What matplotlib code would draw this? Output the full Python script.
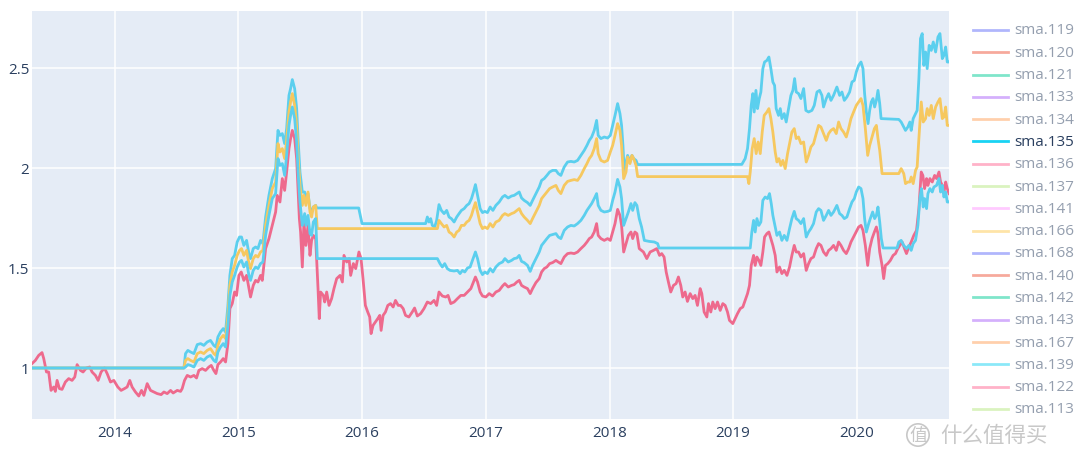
import matplotlib.pyplot as plt
import matplotlib.dates as mdates
from matplotlib.lines import Line2D
import pandas as pd

plt.rcParams['font.family'] = ['Open Sans', 'DejaVu Sans']

# values: (decimal year, value)
sma135 = [
    (2013.330, 1.000), (2014.559, 1.000), (2014.572, 1.072), (2014.591, 1.088), (2014.613, 1.080),
    (2014.640, 1.072), (2014.667, 1.117), (2014.694, 1.122), (2014.720, 1.113), (2014.747, 1.130),
    (2014.774, 1.138), (2014.801, 1.113), (2014.818, 1.105), (2014.834, 1.155), (2014.855, 1.180),
    (2014.877, 1.197), (2014.896, 1.180), (2014.915, 1.313), (2014.931, 1.463), (2014.950, 1.547),
    (2014.969, 1.563), (2014.990, 1.630), (2015.009, 1.655), (2015.025, 1.655), (2015.044, 1.613),
    (2015.066, 1.638), (2015.085, 1.572), (2015.098, 1.547), (2015.120, 1.597), (2015.139, 1.605),
    (2015.158, 1.597), (2015.179, 1.638), (2015.198, 1.622), (2015.220, 1.755), (2015.247, 1.863),
    (2015.274, 1.947), (2015.301, 1.997), (2015.320, 2.188), (2015.336, 2.163), (2015.355, 2.172),
    (2015.374, 2.122), (2015.390, 2.197), (2015.409, 2.363), (2015.422, 2.397), (2015.436, 2.442),
    (2015.455, 2.397), (2015.471, 2.297), (2015.484, 2.130), (2015.498, 1.980), (2015.517, 1.880),
    (2015.536, 1.880), (2015.546, 1.847), (2015.563, 1.872), (2015.579, 1.797), (2015.592, 1.780),
    (2015.606, 1.805), (2015.625, 1.813), (2015.633, 1.800), (2015.973, 1.800), (2016.000, 1.722),
    (2016.513, 1.722), (2016.527, 1.755), (2016.540, 1.730), (2016.554, 1.747), (2016.567, 1.713),
    (2016.586, 1.705), (2016.602, 1.738), (2016.621, 1.817), (2016.640, 1.788), (2016.662, 1.772),
    (2016.683, 1.788), (2016.702, 1.755), (2016.721, 1.747), (2016.743, 1.730), (2016.764, 1.755),
    (2016.783, 1.772), (2016.802, 1.788), (2016.824, 1.797), (2016.845, 1.813), (2016.864, 1.822),
    (2016.883, 1.847), (2016.899, 1.880), (2016.915, 1.917), (2016.932, 1.863), (2016.953, 1.797),
    (2016.972, 1.777), (2016.991, 1.783), (2017.012, 1.777), (2017.034, 1.805), (2017.056, 1.788),
    (2017.080, 1.813), (2017.107, 1.830), (2017.134, 1.855), (2017.153, 1.863), (2017.180, 1.850),
    (2017.207, 1.860), (2017.228, 1.863), (2017.250, 1.872), (2017.269, 1.880), (2017.288, 1.850),
    (2017.309, 1.838), (2017.336, 1.827), (2017.358, 1.813), (2017.377, 1.838), (2017.404, 1.872),
    (2017.431, 1.905), (2017.450, 1.938), (2017.471, 1.947), (2017.493, 1.963), (2017.515, 1.980),
    (2017.539, 1.988), (2017.566, 1.988), (2017.585, 1.972), (2017.606, 1.963), (2017.633, 2.005),
    (2017.660, 2.030), (2017.687, 2.033), (2017.714, 2.030), (2017.741, 2.038), (2017.768, 2.063),
    (2017.795, 2.088), (2017.817, 2.113), (2017.836, 2.138), (2017.855, 2.155), (2017.876, 2.188),
    (2017.895, 2.238), (2017.908, 2.163), (2017.930, 2.147), (2017.957, 2.155), (2017.984, 2.150),
    (2018.006, 2.163), (2018.025, 2.213), (2018.044, 2.263), (2018.065, 2.322), (2018.084, 2.272),
    (2018.097, 2.213), (2018.108, 2.113), (2018.119, 1.980), (2018.133, 2.030), (2018.146, 2.063),
    (2018.165, 2.030), (2018.181, 2.063), (2018.195, 2.047), (2018.214, 2.038), (2018.227, 2.017),
    (2019.070, 2.018), (2019.097, 2.047), (2019.116, 2.097), (2019.132, 2.197), (2019.146, 2.313),
    (2019.159, 2.372), (2019.170, 2.280), (2019.184, 2.388), (2019.197, 2.297), (2019.211, 2.347),
    (2019.224, 2.380), (2019.240, 2.497), (2019.254, 2.530), (2019.273, 2.538), (2019.289, 2.555),
    (2019.305, 2.497), (2019.321, 2.430), (2019.335, 2.413), (2019.348, 2.297), (2019.367, 2.263),
    (2019.381, 2.297), (2019.394, 2.247), (2019.413, 2.272), (2019.429, 2.230), (2019.448, 2.297),
    (2019.467, 2.363), (2019.483, 2.388), (2019.497, 2.447), (2019.510, 2.380), (2019.529, 2.372),
    (2019.548, 2.347), (2019.570, 2.397), (2019.588, 2.288), (2019.610, 2.280), (2019.637, 2.288),
    (2019.656, 2.313), (2019.678, 2.380), (2019.699, 2.388), (2019.718, 2.363), (2019.731, 2.305),
    (2019.753, 2.347), (2019.772, 2.372), (2019.791, 2.338), (2019.812, 2.363), (2019.839, 2.405),
    (2019.861, 2.363), (2019.880, 2.380), (2019.899, 2.338), (2019.920, 2.355), (2019.942, 2.380),
    (2019.961, 2.430), (2019.980, 2.438), (2019.996, 2.480), (2020.015, 2.513), (2020.034, 2.530),
    (2020.050, 2.497), (2020.063, 2.372), (2020.077, 2.280), (2020.091, 2.222), (2020.104, 2.288),
    (2020.117, 2.330), (2020.131, 2.347), (2020.144, 2.305), (2020.158, 2.338), (2020.171, 2.388),
    (2020.185, 2.322), (2020.196, 2.247), (2020.339, 2.243), (2020.358, 2.230), (2020.379, 2.205),
    (2020.393, 2.188), (2020.412, 2.205), (2020.428, 2.230), (2020.439, 2.188), (2020.455, 2.247),
    (2020.474, 2.272), (2020.487, 2.288), (2020.501, 2.447), (2020.514, 2.647), (2020.528, 2.672),
    (2020.541, 2.513), (2020.555, 2.580), (2020.568, 2.497), (2020.584, 2.613), (2020.601, 2.588),
    (2020.617, 2.630), (2020.636, 2.580), (2020.655, 2.655), (2020.671, 2.672), (2020.690, 2.547),
    (2020.703, 2.563), (2020.717, 2.605), (2020.730, 2.530), (2020.744, 2.530),
]

sma136 = [
    (2013.330, 1.022), (2013.357, 1.038), (2013.384, 1.063), (2013.411, 1.077), (2013.425, 1.047),
    (2013.447, 0.980), (2013.465, 0.980), (2013.484, 0.888), (2013.506, 0.905), (2013.519, 0.883),
    (2013.533, 0.938), (2013.552, 0.897), (2013.573, 0.893), (2013.600, 0.930), (2013.627, 0.947),
    (2013.654, 0.938), (2013.676, 0.955), (2013.695, 1.017), (2013.722, 0.988), (2013.743, 0.980),
    (2013.770, 1.000), (2013.797, 1.005), (2013.816, 0.980), (2013.843, 0.963), (2013.865, 0.938),
    (2013.889, 0.980), (2013.916, 1.000), (2013.938, 0.972), (2013.965, 0.930), (2013.992, 0.938),
    (2014.024, 0.905), (2014.051, 0.888), (2014.078, 0.897), (2014.100, 0.905), (2014.121, 0.938),
    (2014.140, 0.905), (2014.167, 0.880), (2014.194, 0.860), (2014.216, 0.888), (2014.235, 0.863),
    (2014.262, 0.922), (2014.289, 0.888), (2014.316, 0.880), (2014.343, 0.872), (2014.375, 0.867),
    (2014.397, 0.880), (2014.424, 0.872), (2014.451, 0.888), (2014.472, 0.875), (2014.505, 0.888),
    (2014.532, 0.883), (2014.545, 0.897), (2014.564, 0.938), (2014.586, 0.963), (2014.613, 0.955),
    (2014.640, 0.963), (2014.661, 0.950), (2014.680, 0.988), (2014.707, 0.997), (2014.734, 0.988),
    (2014.761, 1.005), (2014.780, 1.013), (2014.801, 0.988), (2014.818, 0.972), (2014.834, 1.017),
    (2014.855, 1.030), (2014.877, 1.047), (2014.896, 1.030), (2014.915, 1.122), (2014.931, 1.297),
    (2014.950, 1.322), (2014.969, 1.380), (2014.985, 1.363), (2015.004, 1.463), (2015.023, 1.480),
    (2015.044, 1.438), (2015.066, 1.463), (2015.085, 1.397), (2015.098, 1.355), (2015.120, 1.413),
    (2015.139, 1.438), (2015.158, 1.430), (2015.179, 1.463), (2015.193, 1.438), (2015.220, 1.597),
    (2015.247, 1.647), (2015.274, 1.713), (2015.301, 1.780), (2015.314, 1.863), (2015.336, 1.830),
    (2015.355, 1.947), (2015.374, 1.888), (2015.390, 1.980), (2015.409, 2.097), (2015.422, 2.147),
    (2015.436, 2.188), (2015.455, 2.147), (2015.471, 2.047), (2015.482, 1.897), (2015.493, 1.747),
    (2015.503, 1.680), (2015.517, 1.505), (2015.530, 1.730), (2015.546, 1.613), (2015.563, 1.713),
    (2015.579, 1.563), (2015.592, 1.638), (2015.606, 1.663), (2015.625, 1.647), (2015.644, 1.397),
    (2015.654, 1.247), (2015.665, 1.380), (2015.687, 1.363), (2015.698, 1.330), (2015.714, 1.380),
    (2015.733, 1.313), (2015.754, 1.347), (2015.773, 1.397), (2015.795, 1.447), (2015.822, 1.463),
    (2015.841, 1.430), (2015.854, 1.563), (2015.876, 1.530), (2015.895, 1.547), (2015.908, 1.463),
    (2015.930, 1.522), (2015.949, 1.497), (2015.975, 1.580), (2015.992, 1.547), (2016.008, 1.447),
    (2016.027, 1.313), (2016.046, 1.280), (2016.062, 1.255), (2016.073, 1.172), (2016.089, 1.213),
    (2016.108, 1.230), (2016.127, 1.247), (2016.143, 1.263), (2016.154, 1.188), (2016.170, 1.263),
    (2016.189, 1.280), (2016.208, 1.313), (2016.230, 1.322), (2016.251, 1.305), (2016.270, 1.338),
    (2016.292, 1.313), (2016.311, 1.313), (2016.332, 1.297), (2016.351, 1.263), (2016.378, 1.255),
    (2016.405, 1.280), (2016.424, 1.300), (2016.446, 1.260), (2016.473, 1.272), (2016.500, 1.297),
    (2016.527, 1.330), (2016.554, 1.322), (2016.581, 1.338), (2016.602, 1.313), (2016.621, 1.380),
    (2016.648, 1.360), (2016.675, 1.355), (2016.694, 1.363), (2016.716, 1.322), (2016.743, 1.330),
    (2016.770, 1.347), (2016.797, 1.363), (2016.824, 1.363), (2016.851, 1.380), (2016.878, 1.397),
    (2016.899, 1.430), (2016.915, 1.455), (2016.932, 1.430), (2016.953, 1.380), (2016.972, 1.360),
    (2016.999, 1.355), (2017.026, 1.372), (2017.053, 1.360), (2017.080, 1.380), (2017.107, 1.388),
    (2017.134, 1.410), (2017.153, 1.422), (2017.180, 1.405), (2017.207, 1.413), (2017.228, 1.417),
    (2017.250, 1.430), (2017.269, 1.438), (2017.288, 1.413), (2017.309, 1.405), (2017.336, 1.397),
    (2017.358, 1.372), (2017.377, 1.397), (2017.404, 1.427), (2017.431, 1.447), (2017.450, 1.480),
    (2017.471, 1.497), (2017.493, 1.505), (2017.515, 1.522), (2017.539, 1.527), (2017.566, 1.538),
    (2017.585, 1.530), (2017.606, 1.522), (2017.633, 1.555), (2017.660, 1.572), (2017.687, 1.575),
    (2017.714, 1.572), (2017.741, 1.580), (2017.768, 1.597), (2017.795, 1.613), (2017.817, 1.630),
    (2017.836, 1.647), (2017.855, 1.655), (2017.876, 1.680), (2017.895, 1.722), (2017.908, 1.663),
    (2017.930, 1.647), (2017.957, 1.638), (2017.984, 1.647), (2018.006, 1.638), (2018.025, 1.680),
    (2018.044, 1.722), (2018.065, 1.793), (2018.084, 1.763), (2018.097, 1.713), (2018.114, 1.580),
    (2018.133, 1.622), (2018.152, 1.663), (2018.173, 1.680), (2018.187, 1.647), (2018.205, 1.680),
    (2018.221, 1.672), (2018.240, 1.597), (2018.274, 1.580), (2018.301, 1.547), (2018.328, 1.580),
    (2018.355, 1.588), (2018.382, 1.597), (2018.404, 1.563), (2018.422, 1.572), (2018.441, 1.555),
    (2018.458, 1.480), (2018.476, 1.430), (2018.495, 1.380), (2018.517, 1.413), (2018.538, 1.422),
    (2018.557, 1.455), (2018.576, 1.413), (2018.592, 1.355), (2018.611, 1.380), (2018.630, 1.333),
    (2018.652, 1.372), (2018.673, 1.347), (2018.692, 1.363), (2018.711, 1.313), (2018.733, 1.397),
    (2018.746, 1.372), (2018.765, 1.280), (2018.787, 1.255), (2018.800, 1.322), (2018.819, 1.280),
    (2018.835, 1.330), (2018.854, 1.297), (2018.873, 1.330), (2018.895, 1.288), (2018.916, 1.322),
    (2018.935, 1.313), (2018.954, 1.280), (2018.970, 1.238), (2018.997, 1.222), (2019.016, 1.247),
    (2019.035, 1.272), (2019.057, 1.297), (2019.078, 1.305), (2019.097, 1.338), (2019.116, 1.372),
    (2019.132, 1.413), (2019.146, 1.513), (2019.165, 1.563), (2019.178, 1.513), (2019.192, 1.555),
    (2019.208, 1.538), (2019.224, 1.513), (2019.240, 1.580), (2019.254, 1.655), (2019.273, 1.672),
    (2019.289, 1.680), (2019.305, 1.647), (2019.321, 1.613), (2019.340, 1.563), (2019.354, 1.480),
    (2019.375, 1.505), (2019.394, 1.472), (2019.413, 1.488), (2019.435, 1.463), (2019.456, 1.505),
    (2019.475, 1.563), (2019.494, 1.613), (2019.510, 1.580), (2019.529, 1.580), (2019.548, 1.555),
    (2019.570, 1.572), (2019.591, 1.488), (2019.610, 1.522), (2019.629, 1.547), (2019.650, 1.555),
    (2019.672, 1.597), (2019.691, 1.622), (2019.710, 1.613), (2019.731, 1.580), (2019.753, 1.563),
    (2019.772, 1.588), (2019.791, 1.597), (2019.812, 1.613), (2019.834, 1.588), (2019.853, 1.630),
    (2019.872, 1.613), (2019.893, 1.588), (2019.915, 1.572), (2019.934, 1.597), (2019.953, 1.630),
    (2019.974, 1.655), (2019.996, 1.680), (2020.015, 1.705), (2020.034, 1.713), (2020.050, 1.688),
    (2020.069, 1.613), (2020.088, 1.513), (2020.104, 1.597), (2020.123, 1.647), (2020.142, 1.680),
    (2020.158, 1.705), (2020.171, 1.672), (2020.185, 1.580), (2020.204, 1.513), (2020.217, 1.447),
    (2020.231, 1.513), (2020.250, 1.522), (2020.271, 1.538), (2020.293, 1.563), (2020.312, 1.572),
    (2020.331, 1.597), (2020.347, 1.613), (2020.366, 1.630), (2020.385, 1.597), (2020.401, 1.572),
    (2020.420, 1.605), (2020.439, 1.630), (2020.460, 1.663), (2020.482, 1.688), (2020.501, 1.797),
    (2020.520, 1.980), (2020.533, 1.963), (2020.547, 1.897), (2020.563, 1.947), (2020.574, 1.913),
    (2020.590, 1.947), (2020.609, 1.930), (2020.628, 1.963), (2020.644, 1.947), (2020.663, 1.980),
    (2020.676, 1.930), (2020.690, 1.913), (2020.704, 1.880), (2020.717, 1.930), (2020.730, 1.897),
    (2020.744, 1.872),
]

sma166 = [
    (2013.330, 1.000), (2014.559, 1.000), (2014.572, 1.038), (2014.591, 1.047), (2014.613, 1.038),
    (2014.640, 1.030), (2014.667, 1.072), (2014.694, 1.080), (2014.720, 1.072), (2014.747, 1.088),
    (2014.774, 1.097), (2014.801, 1.072), (2014.818, 1.063), (2014.834, 1.113), (2014.855, 1.147),
    (2014.877, 1.163), (2014.896, 1.147), (2014.915, 1.263), (2014.931, 1.413), (2014.950, 1.480),
    (2014.969, 1.513), (2014.990, 1.563), (2015.009, 1.588), (2015.025, 1.597), (2015.044, 1.563),
    (2015.066, 1.588), (2015.085, 1.522), (2015.098, 1.497), (2015.120, 1.547), (2015.139, 1.563),
    (2015.158, 1.555), (2015.179, 1.580), (2015.198, 1.588), (2015.220, 1.713), (2015.247, 1.813),
    (2015.274, 1.897), (2015.301, 1.930), (2015.320, 2.122), (2015.336, 2.080), (2015.355, 2.097),
    (2015.374, 2.047), (2015.390, 2.138), (2015.409, 2.280), (2015.422, 2.330), (2015.436, 2.372),
    (2015.455, 2.313), (2015.471, 2.213), (2015.484, 2.047), (2015.498, 1.913), (2015.517, 1.813),
    (2015.530, 1.863), (2015.546, 1.813), (2015.563, 1.880), (2015.579, 1.780), (2015.592, 1.755),
    (2015.606, 1.805), (2015.625, 1.813), (2015.638, 1.697), (2016.608, 1.697), (2016.621, 1.738),
    (2016.640, 1.722), (2016.662, 1.705), (2016.683, 1.713), (2016.702, 1.680), (2016.721, 1.672),
    (2016.743, 1.655), (2016.764, 1.680), (2016.783, 1.688), (2016.802, 1.713), (2016.824, 1.713),
    (2016.845, 1.730), (2016.864, 1.738), (2016.883, 1.763), (2016.899, 1.797), (2016.915, 1.827),
    (2016.932, 1.780), (2016.953, 1.722), (2016.972, 1.697), (2016.991, 1.705), (2017.012, 1.697),
    (2017.034, 1.722), (2017.056, 1.705), (2017.080, 1.730), (2017.107, 1.738), (2017.134, 1.763),
    (2017.153, 1.772), (2017.180, 1.763), (2017.207, 1.772), (2017.228, 1.777), (2017.250, 1.788),
    (2017.269, 1.797), (2017.288, 1.772), (2017.309, 1.755), (2017.336, 1.738), (2017.358, 1.722),
    (2017.377, 1.747), (2017.404, 1.780), (2017.431, 1.813), (2017.450, 1.847), (2017.471, 1.863),
    (2017.493, 1.880), (2017.515, 1.897), (2017.539, 1.905), (2017.566, 1.913), (2017.585, 1.888),
    (2017.606, 1.872), (2017.633, 1.913), (2017.660, 1.933), (2017.687, 1.938), (2017.714, 1.942),
    (2017.741, 1.938), (2017.768, 1.963), (2017.795, 1.997), (2017.817, 2.022), (2017.836, 2.047),
    (2017.855, 2.063), (2017.876, 2.097), (2017.895, 2.147), (2017.908, 2.072), (2017.930, 2.038),
    (2017.957, 2.030), (2017.984, 2.038), (2018.006, 2.080), (2018.025, 2.113), (2018.044, 2.163),
    (2018.065, 2.222), (2018.084, 2.188), (2018.097, 2.113), (2018.114, 1.947), (2018.133, 1.980),
    (2018.146, 2.055), (2018.165, 2.022), (2018.181, 2.063), (2018.195, 2.047), (2018.214, 2.013),
    (2018.227, 1.957), (2019.116, 1.957), (2019.127, 1.922), (2019.138, 1.980), (2019.154, 2.097),
    (2019.170, 2.147), (2019.186, 2.072), (2019.202, 2.130), (2019.219, 2.072), (2019.235, 2.180),
    (2019.251, 2.263), (2019.273, 2.280), (2019.289, 2.297), (2019.305, 2.247), (2019.321, 2.180),
    (2019.340, 2.080), (2019.354, 2.030), (2019.370, 2.047), (2019.386, 2.013), (2019.402, 2.038),
    (2019.421, 1.997), (2019.440, 2.072), (2019.456, 2.122), (2019.475, 2.180), (2019.494, 2.197),
    (2019.510, 2.147), (2019.529, 2.155), (2019.548, 2.122), (2019.570, 2.130), (2019.591, 2.030),
    (2019.610, 2.063), (2019.629, 2.105), (2019.650, 2.122), (2019.672, 2.172), (2019.691, 2.213),
    (2019.710, 2.205), (2019.731, 2.172), (2019.753, 2.138), (2019.772, 2.172), (2019.791, 2.188),
    (2019.812, 2.197), (2019.834, 2.172), (2019.853, 2.230), (2019.872, 2.197), (2019.893, 2.180),
    (2019.915, 2.155), (2019.934, 2.197), (2019.953, 2.247), (2019.974, 2.280), (2019.996, 2.313),
    (2020.015, 2.330), (2020.034, 2.347), (2020.050, 2.313), (2020.069, 2.197), (2020.088, 2.063),
    (2020.104, 2.113), (2020.123, 2.155), (2020.142, 2.197), (2020.158, 2.213), (2020.171, 2.147),
    (2020.185, 2.088), (2020.204, 1.972), (2020.339, 1.972), (2020.358, 1.997), (2020.379, 1.972),
    (2020.393, 1.922), (2020.412, 1.930), (2020.428, 1.930), (2020.439, 1.955), (2020.455, 1.922),
    (2020.474, 1.988), (2020.487, 2.005), (2020.501, 2.147), (2020.520, 2.330), (2020.536, 2.230),
    (2020.555, 2.247), (2020.568, 2.297), (2020.584, 2.263), (2020.601, 2.313), (2020.617, 2.247),
    (2020.636, 2.305), (2020.655, 2.330), (2020.671, 2.347), (2020.690, 2.247), (2020.703, 2.255),
    (2020.717, 2.305), (2020.730, 2.213), (2020.744, 2.213),
]

sma139 = [
    (2013.330, 1.000), (2014.559, 1.000), (2014.572, 1.005), (2014.591, 1.017), (2014.613, 1.013),
    (2014.640, 1.005), (2014.667, 1.038), (2014.694, 1.047), (2014.720, 1.038), (2014.747, 1.055),
    (2014.774, 1.063), (2014.801, 1.038), (2014.818, 1.030), (2014.834, 1.080), (2014.855, 1.105),
    (2014.877, 1.122), (2014.896, 1.105), (2014.915, 1.213), (2014.931, 1.363), (2014.950, 1.430),
    (2014.969, 1.463), (2014.990, 1.505), (2015.009, 1.530), (2015.025, 1.538), (2015.044, 1.505),
    (2015.066, 1.530), (2015.085, 1.463), (2015.098, 1.438), (2015.120, 1.488), (2015.139, 1.505),
    (2015.158, 1.497), (2015.179, 1.522), (2015.198, 1.530), (2015.220, 1.663), (2015.247, 1.763),
    (2015.274, 1.847), (2015.301, 1.872), (2015.320, 2.047), (2015.336, 2.013), (2015.355, 2.022),
    (2015.374, 1.963), (2015.390, 2.063), (2015.409, 2.213), (2015.422, 2.263), (2015.436, 2.305),
    (2015.455, 2.247), (2015.471, 2.130), (2015.484, 1.963), (2015.498, 1.830), (2015.517, 1.713),
    (2015.536, 1.772), (2015.546, 1.713), (2015.563, 1.763), (2015.579, 1.672), (2015.592, 1.663),
    (2015.606, 1.730), (2015.625, 1.747), (2015.638, 1.547), (2016.608, 1.547), (2016.629, 1.522),
    (2016.648, 1.505), (2016.667, 1.522), (2016.688, 1.497), (2016.710, 1.488), (2016.743, 1.485),
    (2016.770, 1.488), (2016.791, 1.472), (2016.810, 1.488), (2016.829, 1.480), (2016.851, 1.500),
    (2016.872, 1.505), (2016.891, 1.538), (2016.915, 1.580), (2016.932, 1.547), (2016.953, 1.488),
    (2016.972, 1.467), (2016.991, 1.480), (2017.012, 1.472), (2017.034, 1.497), (2017.056, 1.480),
    (2017.080, 1.505), (2017.107, 1.522), (2017.134, 1.530), (2017.153, 1.547), (2017.180, 1.530),
    (2017.207, 1.538), (2017.228, 1.547), (2017.250, 1.550), (2017.269, 1.563), (2017.288, 1.533),
    (2017.309, 1.527), (2017.336, 1.513), (2017.358, 1.483), (2017.377, 1.513), (2017.404, 1.547),
    (2017.431, 1.580), (2017.450, 1.613), (2017.471, 1.630), (2017.493, 1.647), (2017.515, 1.663),
    (2017.539, 1.667), (2017.566, 1.672), (2017.585, 1.655), (2017.606, 1.647), (2017.633, 1.688),
    (2017.660, 1.705), (2017.687, 1.713), (2017.714, 1.710), (2017.741, 1.722), (2017.768, 1.738),
    (2017.795, 1.763), (2017.817, 1.788), (2017.836, 1.805), (2017.855, 1.822), (2017.876, 1.847),
    (2017.895, 1.872), (2017.908, 1.813), (2017.930, 1.788), (2017.957, 1.780), (2017.984, 1.783),
    (2018.006, 1.788), (2018.025, 1.838), (2018.044, 1.880), (2018.065, 1.943), (2018.084, 1.905),
    (2018.097, 1.847), (2018.114, 1.713), (2018.133, 1.747), (2018.152, 1.780), (2018.173, 1.822),
    (2018.187, 1.788), (2018.205, 1.827), (2018.221, 1.813), (2018.240, 1.747), (2018.259, 1.705),
    (2018.281, 1.638), (2018.321, 1.633), (2018.362, 1.630), (2018.389, 1.622), (2018.400, 1.600),
    (2019.138, 1.600), (2019.151, 1.680), (2019.165, 1.738), (2019.178, 1.680), (2019.192, 1.747),
    (2019.208, 1.713), (2019.224, 1.730), (2019.240, 1.838), (2019.259, 1.855), (2019.278, 1.847),
    (2019.294, 1.872), (2019.308, 1.822), (2019.321, 1.763), (2019.340, 1.705), (2019.354, 1.663),
    (2019.375, 1.680), (2019.394, 1.638), (2019.413, 1.663), (2019.435, 1.638), (2019.456, 1.697),
    (2019.475, 1.747), (2019.494, 1.783), (2019.510, 1.747), (2019.529, 1.738), (2019.548, 1.722),
    (2019.570, 1.747), (2019.591, 1.655), (2019.610, 1.680), (2019.629, 1.697), (2019.650, 1.722),
    (2019.672, 1.780), (2019.691, 1.797), (2019.710, 1.788), (2019.731, 1.738), (2019.753, 1.763),
    (2019.772, 1.788), (2019.791, 1.763), (2019.812, 1.780), (2019.839, 1.813), (2019.861, 1.772),
    (2019.880, 1.763), (2019.899, 1.747), (2019.920, 1.755), (2019.942, 1.797), (2019.961, 1.830),
    (2019.980, 1.847), (2019.996, 1.880), (2020.015, 1.905), (2020.034, 1.897), (2020.050, 1.847),
    (2020.063, 1.747), (2020.077, 1.680), (2020.096, 1.722), (2020.109, 1.747), (2020.128, 1.780),
    (2020.144, 1.747), (2020.158, 1.763), (2020.171, 1.805), (2020.185, 1.730), (2020.198, 1.647),
    (2020.212, 1.600), (2020.325, 1.600), (2020.339, 1.630), (2020.358, 1.638), (2020.379, 1.613),
    (2020.401, 1.597), (2020.420, 1.613), (2020.439, 1.588), (2020.455, 1.622), (2020.474, 1.638),
    (2020.493, 1.713), (2020.509, 1.847), (2020.522, 1.897), (2020.536, 1.805), (2020.547, 1.847),
    (2020.563, 1.797), (2020.574, 1.872), (2020.590, 1.897), (2020.609, 1.880), (2020.622, 1.905),
    (2020.644, 1.913), (2020.663, 1.947), (2020.676, 1.880), (2020.690, 1.913), (2020.703, 1.855),
    (2020.717, 1.880), (2020.730, 1.830), (2020.744, 1.830),
]

# legend order and plotly default colours
legend_names = ['sma.119', 'sma.120', 'sma.121', 'sma.133', 'sma.134', 'sma.135', 'sma.136',
                'sma.137', 'sma.141', 'sma.166', 'sma.168', 'sma.140', 'sma.142', 'sma.143',
                'sma.167', 'sma.139', 'sma.122', 'sma.113']
palette = ['#636EFA', '#EF553B', '#00CC96', '#AB63FA', '#FFA15A',
           '#19D3F3', '#FF6692', '#B6E880', '#FF97FF', '#FECB52']
highlighted = 'sma.135'

drawn = [('sma.135', sma135, '#5BCFEE'), ('sma.136', sma136, '#EE6A8D'),
         ('sma.166', sma166, '#F6C85F'), ('sma.139', sma139, '#5BCFEE')]


def to_dates(years):
    out = []
    for y in years:
        yi = int(y)
        start = pd.Timestamp(yi, 1, 1)
        end = pd.Timestamp(yi + 1, 1, 1)
        out.append(start + (end - start) * (y - yi))
    return out


fig = plt.figure(figsize=(10.8, 4.64), dpi=100)
ax = fig.add_axes([32 / 1080, 44 / 464, 917 / 1080, 408 / 464])
ax.set_facecolor('#E5ECF6')
for s in ax.spines.values():
    s.set_visible(False)

all_dates = []
for name, pts, col in drawn:
    d = to_dates([p[0] for p in pts])
    v = [p[1] for p in pts]
    ax.plot(d, v, color=col, lw=2.0, solid_joinstyle='round', zorder=3)
    all_dates += d

ax.set_xlim(min(all_dates), max(all_dates))
ax.set_ylim(0.745, 2.785)
ax.set_yticks([1, 1.5, 2, 2.5])
ax.set_yticklabels(['1', '1.5', '2', '2.5'])
ax.xaxis.set_major_locator(mdates.YearLocator())
ax.xaxis.set_major_formatter(mdates.DateFormatter('%Y'))
ax.grid(color='white', linewidth=1.1, zorder=0)
ax.set_axisbelow(True)
ax.tick_params(axis='both', length=0, colors='#2a3f5f', labelsize=11)
ax.tick_params(axis='x', pad=4)
ax.tick_params(axis='y', pad=2)

# legend, plotly style: everything faded except the highlighted trace
for i, name in enumerate(legend_names):
    yc = 1 - (31 + i * 22.29) / 464
    col = palette[i % len(palette)]
    a = 1.0 if name == highlighted else 0.5
    fig.add_artist(Line2D([973 / 1080, 1008 / 1080], [yc, yc], color=col, lw=2.0,
                          alpha=a, transform=fig.transFigure))
    fig.text(1014 / 1080, yc, name, color='#2a3f5f', alpha=a, fontsize=11,
             va='center', ha='left')

# watermark
fig.text(918 / 1080, 1 - 436 / 464, '值', family=['Noto Sans CJK SC', 'DejaVu Sans'],
         fontsize=13, color='#c8c8c8', ha='center', va='center',
         bbox=dict(boxstyle='circle,pad=0.12', fc='none', ec='#c8c8c8', lw=1.2))
fig.text(940 / 1080, 1 - 436 / 464, '什么值得买', family=['Noto Sans CJK SC', 'DejaVu Sans'],
         fontsize=15.5, color='#c8c8c8', ha='left', va='center')

fig.savefig('out.png', dpi=100)
